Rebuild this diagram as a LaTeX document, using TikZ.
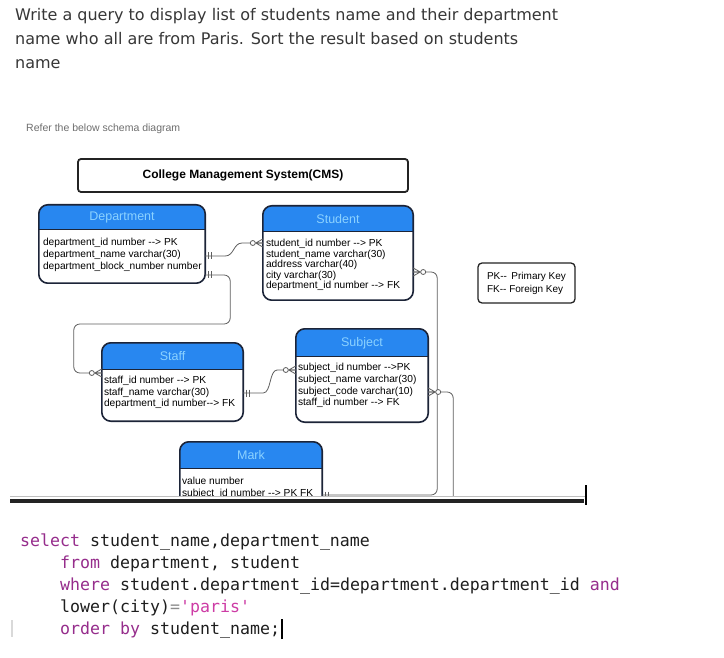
\documentclass[tikz,border=0pt]{standalone}
\usepackage{fontspec}
\setmonofont{DejaVu Sans Mono}
\newfontfamily\questionfont{DejaVu Sans}
\newfontfamily\schemafont{Liberation Sans}
\usepackage{xcolor}
\definecolor{textgray}{RGB}{55,55,55}
\definecolor{notegray}{RGB}{110,110,110}
\definecolor{framedark}{RGB}{35,35,35}
\definecolor{entityedge}{RGB}{28,36,56}
\definecolor{headerblue}{RGB}{40,135,240}
\definecolor{headertext}{RGB}{140,210,255}
\definecolor{linkgray}{RGB}{95,95,95}
\definecolor{sqlkey}{RGB}{150,45,140}
\definecolor{sqlstring}{RGB}{205,60,165}
\definecolor{sqltext}{RGB}{30,30,30}

\begin{document}
\begin{tikzpicture}[
    x=1pt,y=-1pt,
    question/.style={anchor=base west,inner sep=0pt,text=textgray,font=\questionfont\fontsize{16}{18}\selectfont},
    note/.style={anchor=base west,inner sep=0pt,text=notegray,font=\schemafont\fontsize{10.5}{12}\selectfont},
    titlebox/.style={draw=framedark,line width=1.8pt,rounded corners=3pt,minimum width=330pt,minimum height=33pt,inner sep=0pt,font=\schemafont\bfseries\fontsize{12}{14}\selectfont},
    legendbox/.style={draw=framedark,line width=1.3pt,rounded corners=4pt,minimum width=97pt,minimum height=40pt,align=left,inner sep=0pt,font=\schemafont\fontsize{10}{13}\selectfont},
    entity/.style={rectangle,inner sep=0pt},
    entityframe/.style={draw=entityedge,line width=1.6pt,rounded corners=9pt},
    headertitle/.style={inner sep=0pt,text=headertext,font=\schemafont\fontsize{12.5}{14}\selectfont},
    rowtext/.style={anchor=base west,inner sep=0pt,font=\schemafont\fontsize{10.2}{12}\selectfont},
    conn/.style={draw=linkgray,line width=0.8pt},
    onemark/.pic={\draw[conn] (3.5,-3.5) -- (3.5,3.5) (6.5,-3.5) -- (6.5,3.5);},
    zeromany/.pic={\draw[conn] (7,0) -- (0,-4) (7,0) -- (0,4) (7,0) -- (0,0);
                   \draw[conn,fill=white] (10,0) circle[radius=2.5];},
    codeline/.style={anchor=base west,inner sep=0pt,text=sqltext,font=\ttfamily\fontsize{16.6}{20}\selectfont}
]
\fill[white] (0,0) rectangle (724,658);
\useasboundingbox (0,0) rectangle (724,658);

% Question text.
\node[question] (q1) at (15,21) {Write a query to display list of students name and their department};
\node[question] (q2) at (15,45) {name who all are from Paris. Sort the result based on students};
\node[question] (q3) at (15,69) {name};

% Schema screenshot, cut off at the bottom.
\begin{scope}
\clip (0,100) rectangle (724,496);
\node[note] (note) at (26,131.5) {Refer the below schema diagram};
\node[titlebox] (title) at (243,175.5) {College Management System(CMS)};
\node[legendbox] (legend) at (526.5,283) {PK-{}- \,Primary Key\\FK-{}- Foreign Key};

% Entity boxes with blue headers.
\foreach \ent/\cx/\cy/\w/\h/\hh/\heading in {
    dept/122/244/166/78/25/Department,
    stud/338/253/150/94/26/Student,
    staff/172.5/382/141/78/27/Staff,
    subj/362/375.5/132/93/28/Subject,
    mark/251/482/142/80/27/Mark}{
    \node[entity,minimum width=\w,minimum height=\h] (\ent) at (\cx,\cy) {};
    \begin{scope}
        \clip[rounded corners=9pt] (\ent.north west) rectangle (\ent.south east);
        \fill[headerblue] (\ent.north west) rectangle ([yshift=-\hh]\ent.north east);
    \end{scope}
    \draw[draw=entityedge,line width=1pt] ([yshift=-\hh]\ent.north west) -- ([yshift=-\hh]\ent.north east);
    \draw[entityframe] (\ent.north west) rectangle (\ent.south east);
    \node[headertitle] (\ent-head) at ([yshift=-0.5*\hh]\ent.north) {\heading};
}

% Attribute rows.
\foreach \row [count=\i] in {department\_id number -{}-> PK, department\_name varchar(30), department\_block\_number number}
    \node[rowtext] (dept-row\i) at ([xshift=4,yshift={-(29+12*\i)}]dept.north west) {\row};
\foreach \row [count=\i] in {student\_id number -{}-> PK, student\_name varchar(30), address varchar(40), city varchar(30), department\_id number -{}-> FK}
    \node[rowtext] (stud-row\i) at ([xshift=3,yshift={-(30.5+10.5*\i)}]stud.north west) {\row};
\foreach \row [count=\i] in {staff\_id number -{}-> PK, staff\_name varchar(30), department\_id number-{}-> FK}
    \node[rowtext] (staff-row\i) at ([xshift=2,yshift={-(29.5+11.5*\i)}]staff.north west) {\row};
\foreach \row [count=\i] in {subject\_id number -{}->PK, subject\_name varchar(30), subject\_code varchar(10), staff\_id number -{}-> FK}
    \node[rowtext] (subj-row\i) at ([xshift=2,yshift={-(30.3+11.7*\i)}]subj.north west) {\row};
\foreach \row [count=\i] in {value number, subject\_id number -{}-> PK FK}
    \node[rowtext] (mark-row\i) at ([xshift=2,yshift={-(31+12*\i)}]mark.north west) {\row};

% Connection points on the entity edges.
\coordinate (dept-o1) at ([yshift=-12]dept.east);
\coordinate (dept-o2) at ([yshift=-31]dept.east);
\coordinate (stud-i1) at ([yshift=10]stud.west);
\coordinate (stud-o1) at ([yshift=-19]stud.east);
\coordinate (staff-i1) at ([yshift=9]staff.west);
\coordinate (staff-o1) at ([yshift=-11]staff.east);
\coordinate (subj-i1) at ([yshift=5.5]subj.west);
\coordinate (subj-o1) at ([yshift=-16.5]subj.east);
\coordinate (mark-i1) at ([yshift=-13]mark.east);
\coordinate (subj-end) at ([xshift=25,yshift=-130]subj.east);

% Relationship lines.
\draw[conn] (dept-o1) -- ++(20,0) .. controls +(9,0) and +(-9,0) .. ++(17,-13) -- (stud-i1);
\draw[conn,rounded corners=6pt] (dept-o2) -- ++(25,0) -- ++(0,49) -| ([xshift=-28]staff-i1) -- (staff-i1);
\draw[conn] (staff-o1) -- ++(20,0) .. controls +(8,0) and +(-8,0) .. ++(14,-23) -- (subj-i1);
\draw[conn,rounded corners=6pt] (stud-o1) -| ([xshift=115]mark-i1) -- (mark-i1);
\draw[conn,rounded corners=6pt] (subj-o1) -| (subj-end);

% Cardinality marks.
\foreach \pt in {dept-o1,dept-o2,staff-o1,mark-i1}
    \pic at (\pt) {onemark};
\foreach \pt in {stud-o1,subj-o1}
    \pic at (\pt) {zeromany};
\foreach \pt in {stud-i1,staff-i1,subj-i1}
    \pic[rotate=180] at (\pt) {zeromany};
\end{scope}

% Cut edge of the screenshot.
\draw[black!25,line width=0.6pt] (10,496.5) -- (585,496.5);
\draw[framedark,line width=3.5pt] (10,501) -- (584,501);
\draw[black,line width=2pt] (585.5,485) -- (585.5,505);

% SQL answer.
\node[codeline] (code1) at (20,546) {\textcolor{sqlkey}{select} student\_name,department\_name};
\node[codeline] (code2) at (60,568) {\textcolor{sqlkey}{from} department, student};
\node[codeline] (code3) at (60,590) {\textcolor{sqlkey}{where} student.department\_id=department.department\_id \textcolor{sqlkey}{and}};
\node[codeline] (code4) at (60,612) {lower(city)\textcolor{black!45}{=}\textcolor{sqlstring}{'paris'}};
\node[codeline] (code5) at (60,634) {\textcolor{sqlkey}{order by} student\_name;};
\draw[black,line width=1.6pt] ([xshift=2,yshift=-5]code5.base east) -- ([xshift=2,yshift=15]code5.base east);
\draw[black!15,line width=2pt] (12,620) -- (12,637);
\end{tikzpicture}
\end{document}
